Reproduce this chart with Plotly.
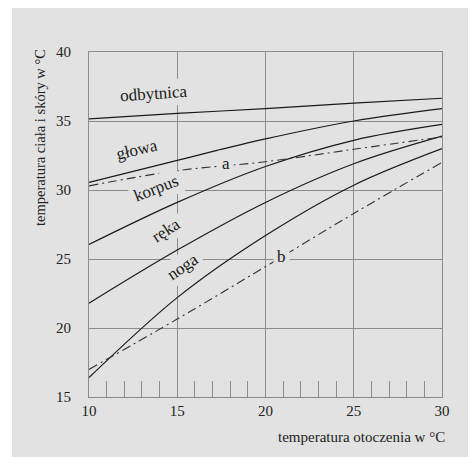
import plotly.graph_objects as go

# Data
x_vals = [10, 15, 20, 25, 30]
odbytnica = [35.15, 35.55, 35.9, 36.3, 36.65]
glowa = [30.55, 32.15, 33.7, 35.0, 35.9]
korpus = [26.05, 29.1, 31.7, 33.6, 34.75]
reka = [21.8, 25.65, 29.1, 31.9, 33.9]
noga = [16.4, 22.2, 26.7, 30.35, 33.0]
a_vals = [30.3, 31.4, 32.05, 32.95, 33.85]
b_vals = [17.0, 20.65, 24.45, 28.3, 32.0]

BG = "#e1e2e1"
GRID = "#8c8c8c"
FONT = "Liberation Serif, Times New Roman, serif"
LINE = "#1a1a1a"

fig = go.Figure()

for ys in [odbytnica, glowa, korpus, reka, noga]:
    fig.add_trace(go.Scatter(x=x_vals, y=ys, mode="lines", line=dict(color=LINE, width=1.2, shape="spline"),
                             hoverinfo="skip", showlegend=False))
for ys in [a_vals, b_vals]:
    fig.add_trace(go.Scatter(x=x_vals, y=ys, mode="lines",
                             line=dict(color="#333333", width=1.1, dash="9px,4px,2px,4px", shape="spline"),
                             hoverinfo="skip", showlegend=False))

labels = [
    ("odbytnica", 13.67, 37.0, -4),
    ("głowa", 12.73, 32.9, -13),
    ("korpus", 13.77, 30.1, -21),
    ("ręka", 14.34, 27.1, -33),
    ("noga", 15.34, 24.45, -34),
    ("a", 17.76, 31.9, 0),
    ("b", 20.88, 25.15, 0),
]
annotations = []
for t, x, y, ang in labels:
    annotations.append(dict(x=x, y=y, xref="x", yref="y", text=t, showarrow=False, textangle=ang,
                            font=dict(family=FONT, size=17, color="#1a1a1a"), bgcolor=BG, borderpad=3))

annotations.append(dict(x=(40 - 89) / 353.0, y=(397 - 138) / 345.0, xref="paper", yref="paper",
                        text="temperatura ciała i skóry w °C", textangle=-90, showarrow=False,
                        xanchor="center", yanchor="middle", font=dict(family=FONT, size=14.5, color="#222")))
annotations.append(dict(x=(447 - 89) / 353.0, y=(397 - 437) / 345.0, xref="paper", yref="paper",
                        text="temperatura otoczenia w °C", showarrow=False,
                        xanchor="right", yanchor="middle", font=dict(family=FONT, size=15, color="#222")))

fig.update_layout(
    width=476, height=457,
    margin=dict(l=81, r=42, t=44, b=68),
    paper_bgcolor="white",
    plot_bgcolor="rgba(0,0,0,0)",
    annotations=annotations,
    shapes=[dict(type="rect", xref="paper", yref="paper", layer="below",
                 x0=-77 / 353.0, x1=1.5, y0=-0.5, y1=1 + 44 / 345.0,
                 fillcolor=BG, line=dict(width=0))],
    font=dict(family=FONT, color="#222"),
)
fig.update_xaxes(range=[10, 30], dtick=5, tick0=10, showgrid=True, gridcolor=GRID, gridwidth=1,
                 showline=True, mirror=True, linecolor=GRID, linewidth=1, zeroline=False,
                 ticks="", tickfont=dict(family=FONT, size=15, color="#222"),
                 minor=dict(ticks="inside", ticklen=16, dtick=1, tickcolor=GRID, tickwidth=1, showgrid=False))
fig.update_yaxes(range=[15, 40], dtick=5, tick0=15, showgrid=True, gridcolor=GRID, gridwidth=1,
                 showline=True, mirror=True, linecolor=GRID, linewidth=1, zeroline=False,
                 ticks="", ticklabelstandoff=14, tickfont=dict(family=FONT, size=15, color="#222"))

fig.write_html("out.html")
